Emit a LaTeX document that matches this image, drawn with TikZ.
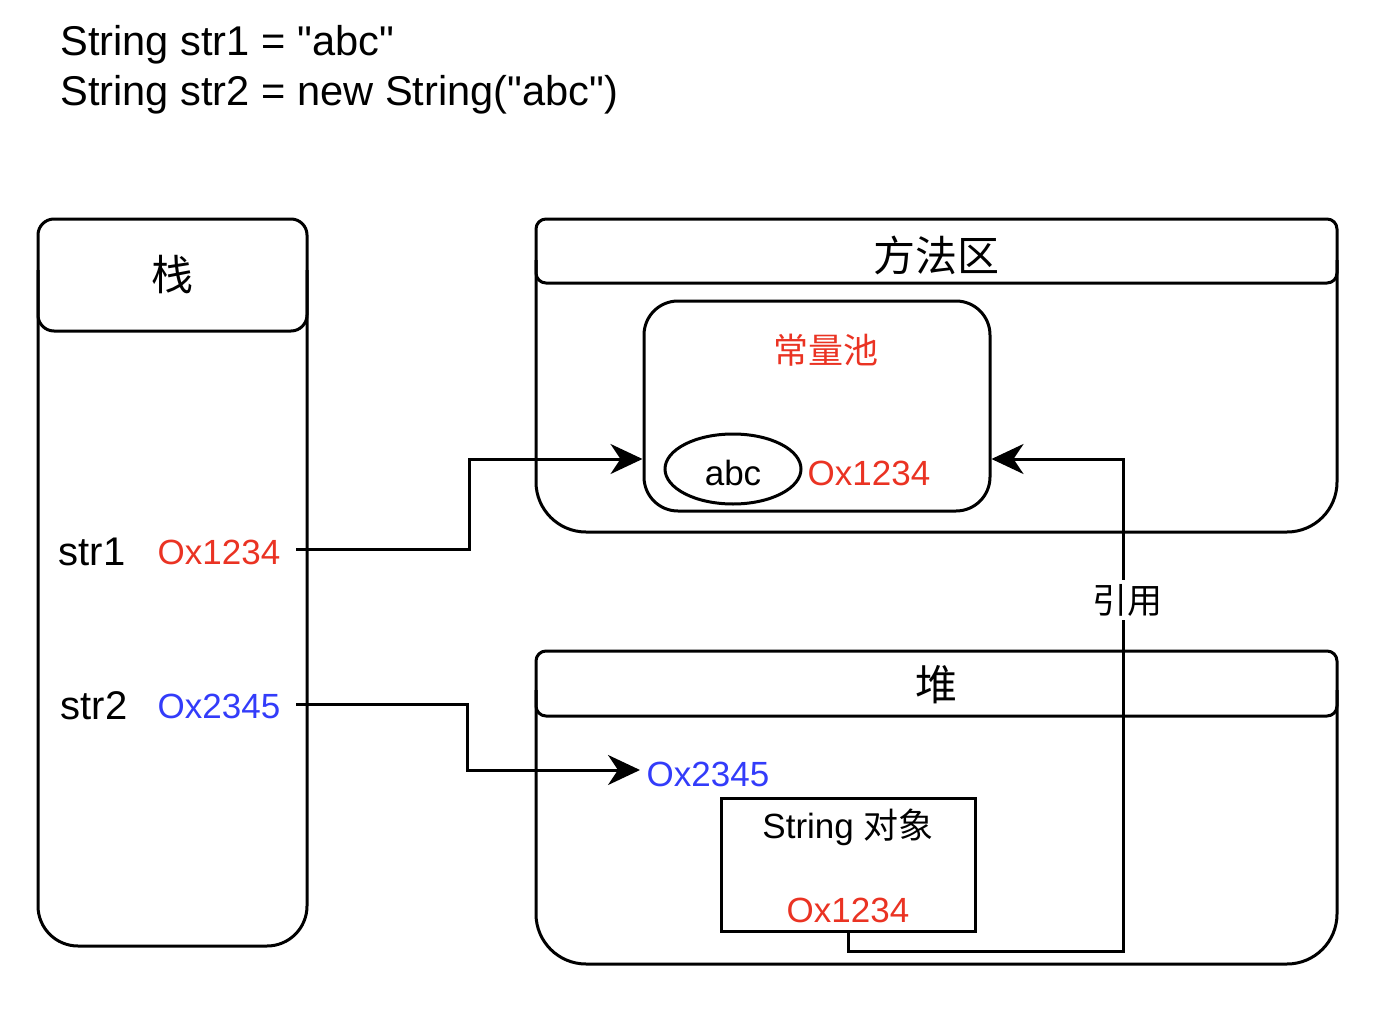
\documentclass[tikz,border=0pt]{standalone}
\usepackage{fontspec}
\setmainfont{Liberation Sans}
\newfontfamily\plainfont{Liberation Sans}
\newfontfamily\cjk{Noto Sans CJK SC}
\usetikzlibrary{arrows.meta,shapes.geometric}
\definecolor{myred}{RGB}{234,51,35}
\definecolor{myblue}{RGB}{51,60,250}
\tikzset{
  box/.style={draw, line width=1.5pt, inner sep=0pt},
  hdr/.style={box, rounded corners=6pt},
  wire/.style={line width=1.5pt},
  arr/.style={wire, -{Stealth[length=16pt, width=15pt, inset=5pt]}},
  lbl/.style={inner sep=0pt, font=\fontsize{17.5pt}{20pt}\selectfont},
  big/.style={inner sep=0pt, font=\fontsize{20pt}{24pt}\selectfont},
  hfont/.style={inner sep=0pt, font=\cjk\fontsize{21pt}{24pt}\selectfont},
}
\begin{document}
\begin{tikzpicture}[x=0.5pt, y=-0.5pt]
\useasboundingbox (0,0) rectangle (1398,1022);

% title
\node[big, anchor=west, font=\plainfont\fontsize{20.8pt}{24pt}\selectfont] (t1) at (60,45) {String str1 = "abc"};
\node[big, anchor=west, font=\plainfont\fontsize{20.8pt}{24pt}\selectfont] (t2) at (60,95) {String str2 = new String("abc")};

% stack
\draw[wire, rounded corners=20pt] (38,270) -- (38,946) -- (307,946) -- (307,270);
\node[hdr, rounded corners=8pt, minimum width=134.5pt, minimum height=56pt] (stackh) at (172.5,275) {};
\node[hfont] at (stackh) {栈};
\node[big] (str1) at (92,552) {str1};
\node[lbl, text=myred] (a1) at (219,552) {Ox1234};
\node[big] (str2) at (94,706) {str2};
\node[lbl, text=myblue] (a2) at (219,706) {Ox2345};
\coordinate (s1) at (296,549);
\coordinate (s2) at (296,704);

% method area
\draw[wire, rounded corners=25pt] (536,260) -- (536,532) -- (1337,532) -- (1337,260);
\node[hdr, rounded corners=5pt, minimum width=400.5pt, minimum height=32pt] (mh) at (936.5,251) {};
\node[hfont] at (936,255) {方法区};

% constant pool
\node[box, rounded corners=17pt, minimum width=173pt, minimum height=105pt] (pool) at (817,406) {};
\node[lbl, font=\cjk\fontsize{17.5pt}{20pt}\selectfont, text=myred] at (826,350) {常量池};
\node[box, ellipse, minimum width=68pt, minimum height=35pt] (abc) at (733,469) {};
\node[lbl] at (733,473) {abc};
\node[lbl, text=myred] (pa) at (869,473) {Ox1234};
\coordinate (pw) at (pool.west |- 0,459);
\coordinate (pe) at (pool.east |- 0,459);

% heap
\draw[wire, rounded corners=25pt] (536,690) -- (536,964) -- (1337,964) -- (1337,690);
\node[hdr, rounded corners=5pt, minimum width=400.5pt, minimum height=32.5pt] (hh) at (936.5,683.5) {};
\node[hfont] at (936,685) {堆};
\coordinate (hin) at (640,770);
\node[lbl, text=myblue] (ha) at (708,774) {Ox2345};
\node[box, minimum width=127pt, minimum height=66.5pt] (sobj) at (848,864.5) {};
\node[lbl, font=\fontsize{17.5pt}{20pt}\selectfont] at (848,827) {String {\cjk 对象}};
\node[lbl, text=myred] (sa) at (848,910) {Ox1234};

% connectors
\draw[arr] (s1) -- (469,549) -- (469,459) -- (pw);
\draw[arr] (s2) -- (467,704) -- (467,770) -- (hin);
\draw[arr] (sobj.south) -- (848,951) -- (1123,951) -- (1123,459) -- (pe);
\node[lbl, fill=white, inner sep=2pt, font=\cjk\fontsize{17.5pt}{20pt}\selectfont] (ref) at (1127,600) {引用};
\end{tikzpicture}
\end{document}
